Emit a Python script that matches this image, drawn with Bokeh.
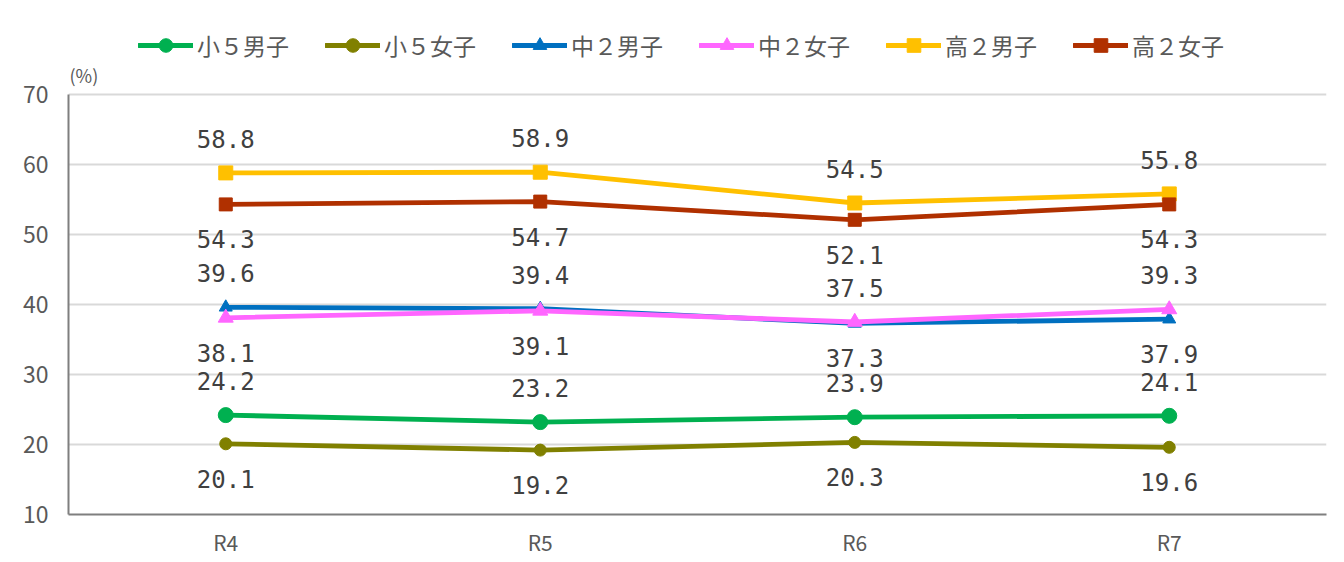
from bokeh.plotting import figure
from bokeh.models import ColumnDataSource, LabelSet, Legend, LegendItem, Range1d, FactorRange, Label
from bokeh.core.properties import value
from bokeh.embed import file_html
from bokeh.resources import INLINE

years = ["R4", "R5", "R6", "R7"]
names = ["小５男子", "小５女子", "中２男子", "中２女子", "高２男子", "高２女子"]
sho5_boys = [24.2, 23.2, 23.9, 24.1]
sho5_girls = [20.1, 19.2, 20.3, 19.6]
chu2_boys = [39.6, 39.4, 37.3, 37.9]
chu2_girls = [38.1, 39.1, 37.5, 39.3]
ko2_boys = [58.8, 58.9, 54.5, 55.8]
ko2_girls = [54.3, 54.7, 52.1, 54.3]
y_ticks = [10, 20, 30, 40, 50, 60, 70]

series = [sho5_boys, sho5_girls, chu2_boys, chu2_girls, ko2_boys, ko2_girls]
colors = ["#00B050", "#808000", "#0070C0", "#FF66FF", "#FFC000", "#B03000"]
markers = ["circle", "circle", "triangle", "triangle", "square", "square"]
msizes = [15, 12, 13, 15, 14, 13]

FONT = "Noto Sans CJK JP"
GRAY = "#595959"

H = 560
BOTTOM = 46
FRAME_H = H - BOTTOM
PX_PER_UNIT = 7.0
y_top = 10 + FRAME_H / PX_PER_UNIT

p = figure(width=1328, height=H, x_range=FactorRange(*years, range_padding=0),
           y_range=Range1d(10, y_top), output_backend="svg", toolbar_location=None,
           min_border_left=68, min_border_right=2, min_border_top=0, min_border_bottom=BOTTOM)
p.x_range.range_padding = 0
p.outline_line_color = None
p.background_fill_color = "white"
p.border_fill_color = "white"

p.xgrid.grid_line_color = None
p.ygrid.grid_line_color = "#D9D9D9"
p.ygrid.grid_line_width = 2
p.yaxis.ticker = y_ticks
p.yaxis.bounds = (10, 70)
p.yaxis.axis_line_color = "#7F7F7F"
p.yaxis.axis_line_width = 2
p.xaxis.axis_line_color = "#7F7F7F"
p.xaxis.axis_line_width = 2
for ax in (p.xaxis, p.yaxis):
    ax.major_tick_line_color = None
    ax.minor_tick_line_color = None
    ax.major_tick_out = 0
    ax.major_tick_in = 0
    ax.major_label_text_color = GRAY
    ax.major_label_text_font = FONT
p.yaxis.major_label_text_font_size = "23px"
p.xaxis.major_label_text_font_size = "21px"
p.yaxis.major_label_standoff = 20
p.xaxis.major_label_standoff = 12

items = []
for vals, col, mk, ms, nm in zip(series, colors, markers, msizes, names):
    src = ColumnDataSource(dict(x=years, y=vals))
    r1 = p.line("x", "y", source=src, line_color=col, line_width=4.8, line_cap="round")
    r2 = p.scatter("x", "y", source=src, marker=mk, size=ms, fill_color=col, line_color=col)
    items.append(LegendItem(label=nm, renderers=[r1, r2]))

# data labels: upper value above, lower value below for each pair
pairs = [(sho5_boys, sho5_girls), (chu2_boys, chu2_girls), (ko2_boys, ko2_girls)]
up_x, up_y, up_t, dn_x, dn_y, dn_t = [], [], [], [], [], []
for a, b in pairs:
    for i, yr in enumerate(years):
        hi, lo = (a[i], b[i]) if a[i] >= b[i] else (b[i], a[i])
        up_x.append(yr); up_y.append(hi); up_t.append(f"{hi:.1f}")
        dn_x.append(yr); dn_y.append(lo); dn_t.append(f"{lo:.1f}")

for xs, ys, ts, off in [(up_x, up_y, up_t, 34), (dn_x, dn_y, dn_t, -35)]:
    s = ColumnDataSource(dict(x=xs, y=ys, t=ts))
    p.add_layout(LabelSet(x="x", y="y", text="t", source=s, y_offset=off,
                          text_align="center", text_baseline="middle",
                          text_font=value("DejaVu Sans Mono"), text_font_size="24px",
                          text_color="#404040"))

legend = Legend(items=items, orientation="horizontal", location=(70, FRAME_H - 62),
                glyph_width=55, glyph_height=34, label_standoff=4, spacing=36,
                label_text_font=FONT, label_text_font_size="23px", label_text_color=GRAY,
                border_line_color=None, background_fill_alpha=0, padding=0, margin=0)
p.add_layout(legend, "center")

p.add_layout(Label(x=0, y=70, x_offset=1, y_offset=20, text="(%)",
                   text_font=FONT, text_font_size="18px", text_color=GRAY,
                   text_align="left", text_baseline="middle"))

open("out.html", "w").write(file_html(p, INLINE))
